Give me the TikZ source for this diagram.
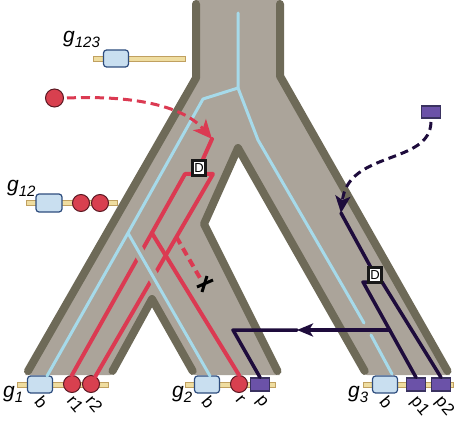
\documentclass[tikz,border=0pt]{standalone}
\usepackage{fontspec}
\setmainfont{Liberation Sans}
\usetikzlibrary{arrows.meta}
\definecolor{fillc}{HTML}{ABA49A}
\definecolor{brd}{HTML}{6E6A58}
\definecolor{lblue}{HTML}{A6DAEA}
\definecolor{gred}{HTML}{DB3A52}
\definecolor{gpur}{HTML}{1E0C3C}
\definecolor{rcf}{HTML}{D8404F}
\definecolor{rcd}{HTML}{5A1822}
\definecolor{bboxf}{HTML}{C9DFF0}
\definecolor{bboxd}{HTML}{2E4D7E}
\definecolor{psqf}{HTML}{6B52A8}
\definecolor{psqd}{HTML}{3A3260}
\definecolor{chf}{HTML}{EFDDA0}
\definecolor{chd}{HTML}{C0A060}
\newcommand{\glbl}[2]{{\fontsize{21}{21}\selectfont\itshape #1\raisebox{-5pt}{\fontsize{15}{15}\selectfont #2}}}
\begin{document}
\begin{tikzpicture}[x=1pt,y=-1pt,
  border/.style={line width=8pt, draw=brd, line cap=round, line join=round},
  bl/.style={line width=3pt, draw=lblue, line cap=round, line join=round},
  halo/.style={line width=11pt, draw=fillc, line cap=butt},
  rd/.style={line width=4pt, draw=gred, line cap=round, line join=round},
  pu/.style={line width=3.5pt, draw=gpur, line cap=round, line join=round},
  dbox/.style={draw=black!90, line width=2.5pt, fill=white, minimum width=13pt, minimum height=15pt, inner sep=0pt, font=\fontsize{13}{13}\selectfont},
  genebox/.style={draw=bboxd, fill=bboxf, line width=1.2pt, rounded corners=3pt, minimum width=25pt, minimum height=17pt, inner sep=0pt},
  redc/.style={circle, draw=rcd, fill=rcf, line width=1pt, minimum size=17pt, inner sep=0pt},
  pusq/.style={draw=psqd, fill=psqf, line width=1.2pt, minimum width=19pt, minimum height=13pt, inner sep=0pt},
  chrom/.style={draw=chd, fill=chf, line width=0.8pt, minimum height=5pt, inner sep=0pt},
  glab/.style={anchor=base west, inner sep=0pt},
  slab/.style={anchor=north west, rotate=-50, inner sep=0pt, font=\fontsize{17}{17}\selectfont}
]
\useasboundingbox (0,0) rectangle (466,425);
% species tree
\fill[fillc] (196,0) -- (196,78) -- (25.3,375) -- (110.3,375) -- (152,299) -- (195,375) -- (279.5,375) -- (204,224) -- (238,148) -- (367,375) -- (449.8,375) -- (280,76) -- (280,0) -- cycle;
\draw[border] (196,4) -- (196,78) -- (28,371);
\draw[border] (280,4) -- (280,76) -- (447.5,371);
\draw[border] (364.7,371) -- (238,148) -- (204,224) -- (277.5,371);
\draw[border] (112.5,371) -- (152,299) -- (192.7,371);

% gene nodes: top
\node[chrom, minimum width=92pt] (bar123) at (139,59) {};
\node[genebox] (b123) at (116,58.5) {};
\node[glab] (lab123) at (63,43) {\glbl{g}{123}};
% g12
\node[chrom, minimum width=91pt] (bar12) at (71.5,203) {};
\node[genebox, minimum width=26pt, minimum height=18pt] (b12) at (49,203) {};
\node[redc] (r12a) at (81,203) {};
\node[redc] (r12b) at (100,203) {};
\node[glab] (lab12) at (7,192) {\glbl{g}{12}};
% sources
\node[redc, minimum size=18pt] (srcR) at (54.5,98) {};
\node[pusq, minimum height=12pt] (srcP) at (431,112) {};
% g1
\node[chrom, minimum width=91pt] (bar1) at (62.5,384.5) {};
\node[genebox] (b1) at (40,384.5) {};
\node[redc] (r1) at (72,384) {};
\node[redc] (r2) at (91,384) {};
\node[glab] (lab1) at (3,397) {\glbl{g}{1}};
\node[slab] (tb1) at (43,394) {b};
\node[slab] (tr1) at (75,394) {r1};
\node[slab] (tr2) at (94,394) {r2};
% g2
\node[chrom, minimum width=90pt] (bar2) at (230,384.5) {};
\node[genebox] (b2) at (207,384.5) {};
\node[redc] (rg2) at (239,384) {};
\node[pusq] (pg2) at (260,384.5) {};
\node[glab] (lab2) at (172,397) {\glbl{g}{2}};
\node[slab] (tb2) at (210,394) {b};
\node[slab] (tr) at (242,394) {r};
\node[slab] (tp) at (263,394) {p};
% g3
\node[chrom, minimum width=90pt] (bar3) at (408,384.5) {};
\node[genebox] (b3) at (385,384.5) {};
\node[pusq] (p1) at (416,384.5) {};
\node[pusq] (p2) at (441,384.5) {};
\node[glab] (lab3) at (348,397) {\glbl{g}{3}};
\node[slab] (tb3) at (388,394) {b};
\node[slab] (tp1) at (419,394) {p1};
\node[slab] (tp2) at (444,394) {p2};

% coordinates
\coordinate (rtip) at (212,139);
\coordinate (Lc) at (185,174);
\coordinate (Rc) at (213,174);
\coordinate (Ls) at (151.9,233);
\coordinate (Bs) at (176.4,237);
\coordinate (lostend) at (200,278);
\coordinate (bt) at (238,13);
\coordinate (bj) at (238,88);
\coordinate (bl1) at (203,99);
\coordinate (bj2) at (128,233);
\coordinate (e1) at (47,376);
\coordinate (e2) at (210,376);
\coordinate (hal) at (165,297);
\coordinate (bk1) at (258,140);
\coordinate (bk2) at (345,290);
\coordinate (gapA) at (364,323);
\coordinate (gapB) at (371,335);
\coordinate (e3) at (392,374);
\coordinate (ptip) at (341,213);
\coordinate (PLc) at (363,282);
\coordinate (PRc) at (382,282);
\coordinate (Ph) at (389.5,330);
\coordinate (Pa) at (297,330);
\coordinate (Pc) at (233,330);
\coordinate (rs) at (67,98);
\coordinate (ps) at (431,122);

% red lineage
\node[dbox] (D1) at (199,168) {D};
\draw[rd] (rtip) -- (D1.center);
\draw[rd] (r1.north) -- (Lc) -- (Rc) -- (r2.60);
\draw[rd] (Ls) -- (rg2.north);
\draw[rd, line cap=butt, dash pattern=on 8pt off 5pt] (Bs) -- (lostend);
\draw[line width=3pt, black] (197,287) -- (213,280);
\draw[line width=3pt, black] (207,276) -- (202,292);

% blue lineage
\draw[halo] (bj2) -- (hal);
\draw[bl] (bt) -- (bj) -- (bl1) -- (bj2) -- (e1);
\draw[bl] (bj2) -- (e2);
\draw[bl] (bj) -- (bk1) -- (bk2) -- (gapA);
\draw[bl] (gapB) -- (e3);

% purple lineage
\node[dbox] (D2) at (375,275) {D};
\draw[pu] (ptip) -- (D2.center);
\draw[pu] (p1.north) -- (PLc) -- (PRc) -- (p2.north);
\draw[pu, -{Stealth[length=16pt,width=13pt,inset=4pt]}] (Ph) -- (Pa);
\draw[pu] (Pa) -- (Pc) -- (pg2.north);

% redraw D boxes on top
\node[dbox] at (D1) {D};
\node[dbox] at (D2) {D};

% transfer arrows
\draw[rd, line width=3pt, line cap=butt, dash pattern=on 9pt off 5pt, -{Stealth[length=19pt,width=17pt,inset=5pt]}] (rs) .. controls (140,95) and (185,108) .. (rtip);
\draw[pu, line width=3pt, line cap=butt, dash pattern=on 8pt off 5pt, -{Stealth[length=17pt,width=15pt,inset=4pt]}] (ps) .. controls (430,165) and (348,150) .. (ptip);
\end{tikzpicture}
\end{document}
